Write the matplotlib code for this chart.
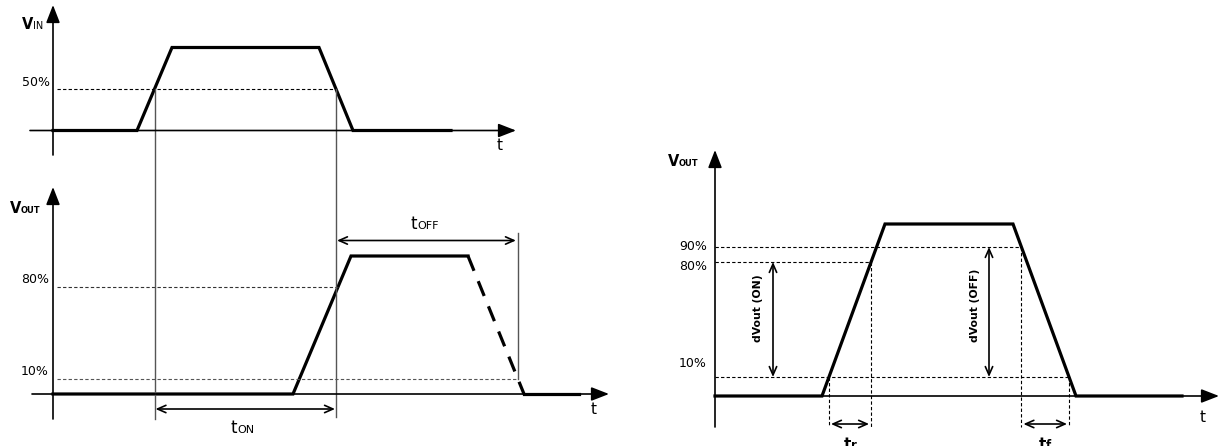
import numpy as np
import matplotlib
matplotlib.use("Agg")
import matplotlib.pyplot as plt

plt.rcParams['font.family'] = ['DejaVu Sans']

# waveform corner points (time, level) - drawing units are pixels of the 1228x446 sheet
vin_t = [53, 137, 172, 319, 353, 451]
vin_v = [130.5, 130.5, 47.5, 47.5, 130.5, 130.5]

vout_t = [53, 293, 351, 468]
vout_v = [394, 394, 256, 256]
vout_fall_t = [468, 524]          # dashed part (turn-off not shown exactly)
vout_fall_v = [256, 394]
vout_tail_t = [524, 579]
vout_tail_v = [394, 394]

vr_t = [715, 822, 885, 1013, 1076, 1182]
vr_v = [396, 396, 224, 224, 396, 396]

# threshold levels
lvl_left = {'50%': 89, '80%': 287, '10%': 379}
lvl_right = {'90%': 247, '80%': 262, '10%': 377}

fig = plt.figure(figsize=(12.28, 4.46), dpi=100)
ax = fig.add_axes([0, 0, 1, 1])
ax.set_xlim(0, 1228)
ax.set_ylim(446, 0)
ax.axis('off')

K = 'black'
thick = 2.3
axis_lw = 1.2
dash = (0, (3, 2))


def axis_arrow(x0, y0, x1, y1):
    ax.annotate('', xy=(x1, y1), xytext=(x0, y0),
                arrowprops=dict(arrowstyle='-|>,head_length=0.9,head_width=0.35',
                                mutation_scale=12, lw=axis_lw, color=K,
                                shrinkA=0, shrinkB=0))


def dim_arrow(x0, y0, x1, y1):
    ax.annotate('', xy=(x1, y1), xytext=(x0, y0),
                arrowprops=dict(arrowstyle='<->,head_length=0.5,head_width=0.22',
                                mutation_scale=12, lw=1.2, color=K,
                                shrinkA=0, shrinkB=0))


def two_part(x, y, big, small, bsize, ssize, weight='normal', sweight=None):
    if sweight is None:
        sweight = weight
    ax.text(x, y, big, ha='right', va='baseline', fontsize=bsize, fontweight=weight, color=K)
    ax.text(x, y, small, ha='left', va='baseline', fontsize=ssize, fontweight=sweight, color=K)


def cross(ts, vs, level, rising=True):
    # time where an edge crosses a level
    ts = np.array(ts, dtype=float)
    vs = np.array(vs, dtype=float)
    for i in range(len(ts) - 1):
        a, b = vs[i], vs[i + 1]
        if a != b and min(a, b) <= level <= max(a, b):
            if (b < a) == rising:
                return ts[i] + (level - a) * (ts[i + 1] - ts[i]) / (b - a)
    return None


# ---------------- VIN ----------------
axis_arrow(53, 155, 53, 5)
axis_arrow(30, 130.5, 516, 130.5)
ax.plot(vin_t, vin_v, color=K, lw=thick, solid_joinstyle='miter')
x_on = cross(vin_t, vin_v, lvl_left['50%'], rising=True)
x_off = cross(vin_t, vin_v, lvl_left['50%'], rising=False)
ax.plot([57, x_off], [lvl_left['50%']] * 2, color=K, lw=0.8, linestyle=dash)
ax.text(50, 86, '50%', ha='right', va='baseline', fontsize=9)
two_part(33, 29, 'V', 'IN', 10.5, 7, weight='bold', sweight='normal')
ax.text(497, 150, 't', ha='left', va='baseline', fontsize=11)

# ---------------- VOUT (left) ----------------
axis_arrow(53, 419, 53, 187)
axis_arrow(32, 394, 609, 394)
ax.plot(vout_t, vout_v, color=K, lw=thick, solid_joinstyle='miter')
ax.plot(vout_fall_t, vout_fall_v, color=K, lw=thick, linestyle=(0, (5, 3.5)))
ax.plot(vout_tail_t, vout_tail_v, color=K, lw=thick)
x80 = cross(vout_t, vout_v, lvl_left['80%'], rising=True)
x10f = cross(vout_fall_t, vout_fall_v, lvl_left['10%'], rising=False)
ax.plot([57, x80], [lvl_left['80%']] * 2, color='#333333', lw=0.8, linestyle=dash)
ax.plot([57, x10f], [lvl_left['10%']] * 2, color='#555555', lw=0.8, linestyle=dash)
ax.text(49, 283, '80%', ha='right', va='baseline', fontsize=9)
ax.text(49, 375, '10%', ha='right', va='baseline', fontsize=9)
two_part(21, 213, 'V', 'OUT', 10.5, 6, weight='bold')
ax.text(591, 414, 't', ha='left', va='baseline', fontsize=11)

# timing reference lines
ax.plot([x_on, x_on], [lvl_left['50%'], 419], color='#555555', lw=1.0)
ax.plot([x_off, x_off], [lvl_left['50%'], 417], color='#555555', lw=1.0)
ax.plot([x10f, x10f], [233, lvl_left['10%']], color='#555555', lw=1.0)

dim_arrow(x_on + 1, 409, x_off - 1, 409)
two_part(237, 433, 't', 'ON', 12, 8)
dim_arrow(x_off + 1, 240.5, x10f - 2, 240.5)
two_part(417, 229, 't', 'OFF', 12, 8)

# ---------------- VOUT (right) ----------------
axis_arrow(715, 427, 715, 150)
axis_arrow(715, 396, 1219, 396)
ax.plot(vr_t, vr_v, color=K, lw=thick, solid_joinstyle='miter')
r80 = cross(vr_t, vr_v, lvl_right['80%'], rising=True)
r10 = cross(vr_t, vr_v, lvl_right['10%'], rising=True)
f90 = cross(vr_t, vr_v, lvl_right['90%'], rising=False)
f10 = cross(vr_t, vr_v, lvl_right['10%'], rising=False)

ax.plot([715, f90], [lvl_right['90%']] * 2, color=K, lw=0.8, linestyle=dash)
ax.plot([715, r80], [lvl_right['80%']] * 2, color=K, lw=0.8, linestyle=dash)
ax.plot([715, f10], [lvl_right['10%']] * 2, color=K, lw=0.8, linestyle=dash)
ax.text(707, 250, '90%', ha='right', va='baseline', fontsize=9)
ax.text(707, 270, '80%', ha='right', va='baseline', fontsize=9)
ax.text(707, 367, '10%', ha='right', va='baseline', fontsize=9)
two_part(679, 166, 'V', 'OUT', 10.5, 6, weight='bold')
ax.text(1200, 422, 't', ha='left', va='baseline', fontsize=11)

for xv, ytop in [(r10, lvl_right['10%']), (r80, lvl_right['80%']),
                 (f90, lvl_right['90%']), (f10, lvl_right['10%'])]:
    ax.plot([xv, xv], [ytop, 427], color=K, lw=0.8, linestyle=dash)

dim_arrow(r10 + 2, 424, r80 - 2, 424)
dim_arrow(f90 + 2, 424, f10 - 2, 424)
two_part(851, 449, 't', 'r', 11, 8.5, weight='bold')
two_part(1046, 449, 't', 'f', 11, 8.5, weight='bold')

dim_arrow(773, lvl_right['80%'], 773, lvl_right['10%'])
dim_arrow(989, lvl_right['90%'], 989, lvl_right['10%'])
ax.text(758, 308, 'dVout (ON)', rotation=90, ha='center', va='center',
        fontsize=7.8, fontweight='bold')
ax.text(975, 305, 'dVout (OFF)', rotation=90, ha='center', va='center',
        fontsize=7.8, fontweight='bold')

fig.savefig('out.png', dpi=100)
